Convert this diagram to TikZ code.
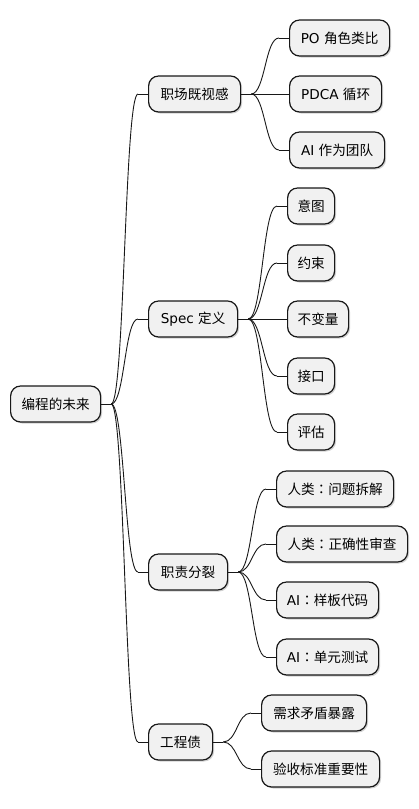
\documentclass[tikz,border=0pt]{standalone}
\usepackage{fontspec}
\setmainfont{DejaVu Sans}
\newfontfamily\cjk{Noto Sans CJK SC}
\newfontfamily\cjktc{Noto Sans CJK TC}
\newcommand\fwcolon{{\cjktc ：}}
\usetikzlibrary{calc,shadows}
\definecolor{mmfill}{RGB}{241,241,241}
\definecolor{mmdraw}{RGB}{24,24,24}
\tikzset{
  mm/.style={draw=mmdraw, fill=mmfill, line width=1.2pt, rounded corners=10pt,
    minimum height=36pt, inner sep=0pt, anchor=west,
    font=\fontsize{13.6}{16}\selectfont,
    drop shadow={shadow xshift=1.5pt, shadow yshift=-1.5pt, opacity=0.18, fill=black}},
  mmline/.style={draw=mmdraw, line width=0.9pt}
}
\newcommand\mmedge[2]{%
  \draw[mmline] (#1.east) -- ++(10,0) coordinate (eA);
  \draw[mmline] (#2.west) -- ++(-10,0) coordinate (eB);
  \draw[mmline] let \p1=(eA), \p2=(eB), \p3=($(eA)!0.5!(eB)$) in
    (eA) .. controls (\x3,\y1) and (\x3,\y2) .. (eB);
}
\begin{document}
\begin{tikzpicture}[x=1pt,y=-1pt]
\useasboundingbox (0,0) rectangle (418,809);
% root
\node[mm, minimum width=90] (R) at (10,404) {\cjk 编程的未来};
% level 1
\node[mm, minimum width=92] (A) at (148,94) {\cjk 职场既视感};
\node[mm, minimum width=89] (B) at (148,319) {Spec {\cjk 定义}};
\node[mm, minimum width=79] (C) at (148,572) {\cjk 职责分裂};
\node[mm, minimum width=64] (D) at (148,742) {\cjk 工程债};
% level 2
\node[mm, minimum width=100] (A1) at (289,38) {PO {\cjk 角色类比}};
\node[mm, minimum width=92] (A2) at (289,94) {PDCA {\cjk 循环}};
\node[mm, minimum width=95] (A3) at (289,150) {AI {\cjk 作为团队}};
\node[mm, minimum width=47] (B1) at (287,206) {\cjk 意图};
\node[mm, minimum width=47] (B2) at (287,263) {\cjk 约束};
\node[mm, minimum width=61] (B3) at (287,319) {\cjk 不变量};
\node[mm, minimum width=47] (B4) at (287,376) {\cjk 接口};
\node[mm, minimum width=47] (B5) at (287,432) {\cjk 评估};
\node[mm, minimum width=117] (C1) at (276,489) {{\cjk 人类}\fwcolon{\cjk 问题拆解}};
\node[mm, minimum width=131] (C2) at (276,544) {{\cjk 人类}\fwcolon{\cjk 正确性审查}};
\node[mm, minimum width=102] (C3) at (276,600) {AI\fwcolon{\cjk 样板代码}};
\node[mm, minimum width=102] (C4) at (276,657) {AI\fwcolon{\cjk 单元测试}};
\node[mm, minimum width=105] (D1) at (261,713) {\cjk 需求矛盾暴露};
\node[mm, minimum width=118] (D2) at (261,769) {\cjk 验收标准重要性};
% edges
\mmedge{R}{A}
\mmedge{R}{B}
\mmedge{R}{C}
\mmedge{R}{D}
\mmedge{A}{A1}
\mmedge{A}{A2}
\mmedge{A}{A3}
\mmedge{B}{B1}
\mmedge{B}{B2}
\mmedge{B}{B3}
\mmedge{B}{B4}
\mmedge{B}{B5}
\mmedge{C}{C1}
\mmedge{C}{C2}
\mmedge{C}{C3}
\mmedge{C}{C4}
\mmedge{D}{D1}
\mmedge{D}{D2}
\end{tikzpicture}
\end{document}
